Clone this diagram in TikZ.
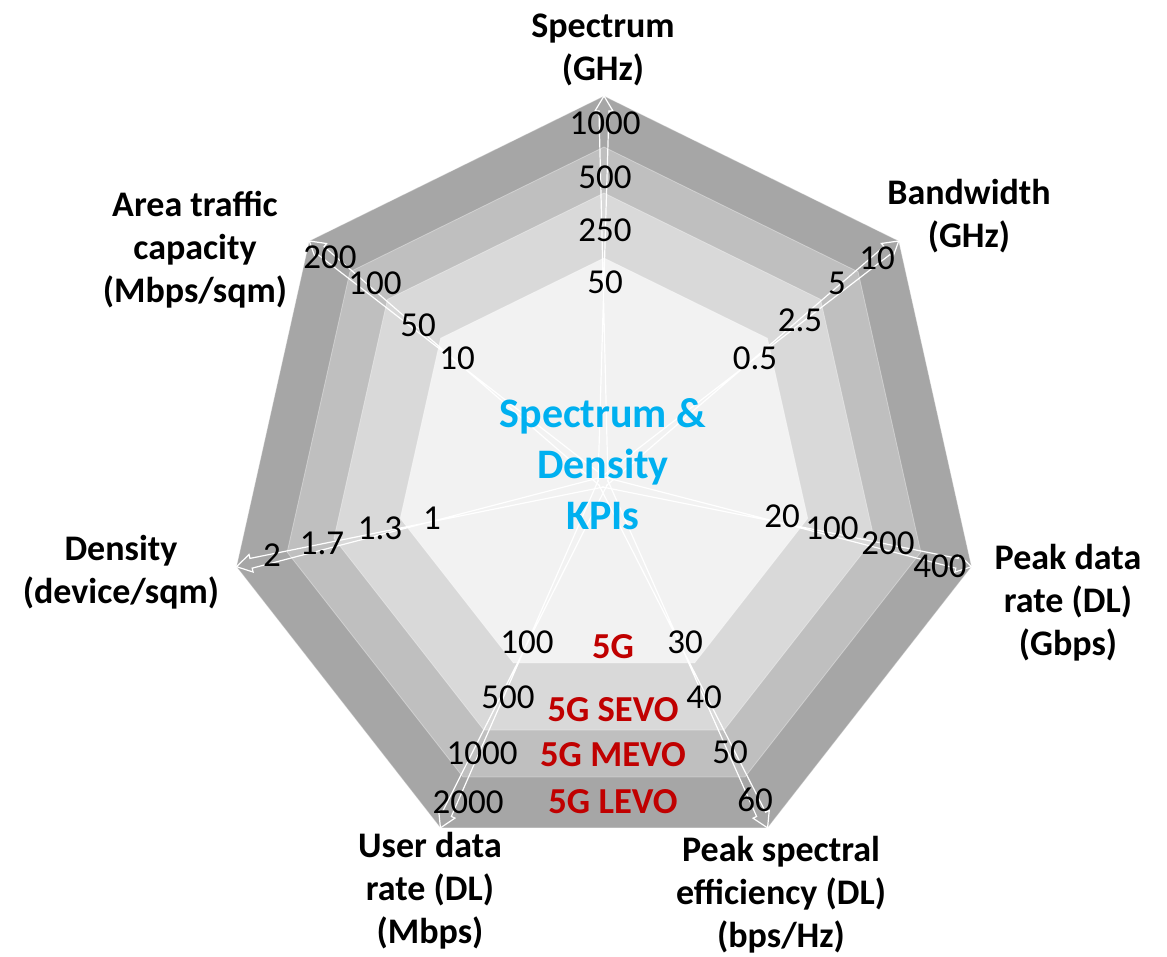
\documentclass[tikz,border=0pt]{standalone}
\usepackage{fontspec}
\setmainfont{Carlito}
\usetikzlibrary{calc}
\definecolor{levA}{HTML}{F2F2F2}
\definecolor{levB}{HTML}{D9D9D9}
\definecolor{levC}{HTML}{BFBFBF}
\definecolor{levD}{HTML}{A6A6A6}
\definecolor{kpiblue}{HTML}{00B0F0}
\definecolor{kpired}{HTML}{C00000}
\newcommand\kpihept[5]{\fill[#1, draw=white, draw opacity=0.35, line width=0.4pt] plot[samples at={0,...,6}] ({#2+#4*cos(90+\x*360/7)},{#3-#5*sin(90+\x*360/7)}) -- cycle;}
\newcommand\kpiaxis[2]{%
  \draw[axisline] ($(#1)!2.5pt!90:(#2)$)
    -- ($(#2)!7.5pt!(#1)!2.5pt!-90:(#2)$)
    -- ($(#2)!7.5pt!(#1)!4.5pt!-90:(#2)$)
    -- (#2)
    -- ($(#2)!7.5pt!(#1)!4.5pt!90:(#2)$)
    -- ($(#2)!7.5pt!(#1)!2.5pt!90:(#2)$)
    -- ($(#1)!2.5pt!-90:(#2)$);}
\begin{document}
\begin{tikzpicture}[x=0.5pt,y=-0.5pt,
  axislbl/.style={font=\fontsize{18}{21.5}\selectfont\bfseries, align=center, inner sep=0pt},
  num/.style={font=\fontsize{17.5}{21}\selectfont, inner sep=0pt},
  gen/.style={font=\fontsize{18.3}{21}\selectfont\bfseries, text=kpired, inner sep=0pt},
  kpititle/.style={font=\fontsize{21}{25.5}\selectfont\bfseries, text=kpiblue, align=center, inner sep=0pt},
  axisline/.style={draw=white, line width=0.6pt, line join=miter},
]
\useasboundingbox (0,0) rectangle (1167,957);
% level polygons
\kpihept{levD}{604}{481}{377}{385}
\kpihept{levC}{604}{478.4}{325}{331.4}
\kpihept{levB}{604}{475.5}{277}{282.5}
\kpihept{levA}{604}{471}{209}{213}
% axis coordinates
\coordinate (O) at (603,482);
\foreach \k in {0,...,6} {
  \coordinate (v\k) at ({604+377*cos(90+\k*360/7)},{481-385*sin(90+\k*360/7)});
}
\foreach \k in {0,...,6} { \kpiaxis{O}{v\k} }
% centre title
\node[kpititle] (title) at (603,464) {Spectrum \&\\Density\\KPIs};
% axis labels
\node[axislbl] (lSpec) at (603,50) {Spectrum\\(GHz)};
\node[axislbl] (lBand) at (969,216) {Bandwidth\\(GHz)};
\node[axislbl] (lPeak) at (1068,603) {Peak data\\rate (DL)\\(Gbps)};
\node[axislbl] (lEff) at (781,895) {Peak spectral\\efficiency (DL)\\(bps/Hz)};
\node[axislbl] (lUser) at (430,891) {User data\\rate (DL)\\(Mbps)};
\node[axislbl] (lDens) at (121,572) {Density\\(device/sqm)};
\node[axislbl] (lArea) at (195,250) {Area traffic\\capacity\\(Mbps/sqm)};
% numbers: spectrum
\node[num] (s1) at (605,123) {1000};
\node[num] (s2) at (605,177) {500};
\node[num] (s3) at (605,230) {250};
\node[num] (s4) at (605,282) {50};
% bandwidth
\node[num] (b1) at (877,258) {10};
\node[num] (b2) at (837,283) {5};
\node[num] (b3) at (800,320) {2.5};
\node[num] (b4) at (755,358) {0.5};
% peak data rate
\node[num] (p1) at (782,516) {20};
\node[num] (p2) at (832,528) {100};
\node[num] (p3) at (888,543) {200};
\node[num] (p4) at (940,566) {400};
% spectral efficiency
\node[num] (e1) at (685,642) {30};
\node[num] (e2) at (704,697) {40};
\node[num] (e3) at (730,752) {50};
\node[num] (e4) at (755,800) {60};
% user data rate
\node[num] (u1) at (527,642) {100};
\node[num] (u2) at (508,697) {500};
\node[num] (u3) at (482,753) {1000};
\node[num] (u4) at (468,802) {2000};
% density
\node[num] (d1) at (432,518) {1};
\node[num] (d2) at (380,528) {1.3};
\node[num] (d3) at (322,543) {1.7};
\node[num] (d4) at (272,555) {2};
% area traffic
\node[num] (a1) at (457,358) {10};
\node[num] (a2) at (418,325) {50};
\node[num] (a3) at (375,283) {100};
\node[num] (a4) at (330,257) {200};
% generations
\node[gen] (g1) at (613,647) {5G};
\node[gen] (g2) at (613,710) {5G SEVO};
\node[gen] (g3) at (613,755) {5G MEVO};
\node[gen] (g4) at (613,802) {5G LEVO};
\end{tikzpicture}
\end{document}
